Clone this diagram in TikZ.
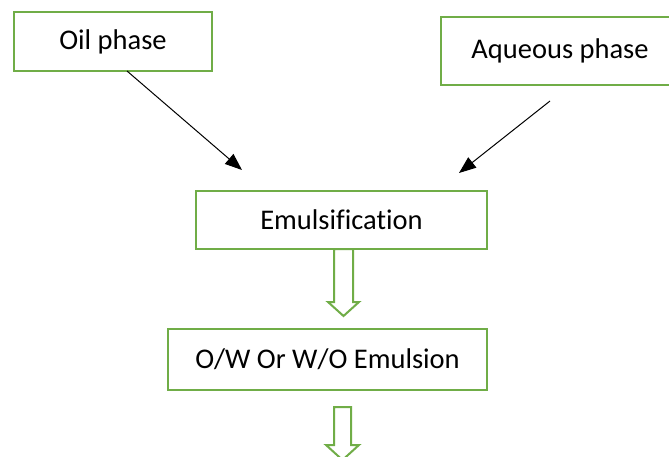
\documentclass[tikz,border=0pt]{standalone}
\usepackage{fontspec}
\setmainfont{Carlito}[Ligatures={NoCommon,NoContextual}]
\usetikzlibrary{arrows.meta,calc}
\definecolor{wgreen}{HTML}{70AD47}
\tikzset{
  gbox/.style={draw=wgreen, line width=2.4pt, fill=white, inner sep=0pt, outer sep=0pt,
    font=\fontsize{28.5}{32}\selectfont},
  thinarrow/.style={draw=black, line width=1pt, -{Triangle[length=17pt,width=13pt]}},
  hollow/.style={draw=wgreen, line width=2pt, fill=white, line join=miter}
}
\begin{document}
\begin{tikzpicture}[x=1pt,y=-1pt]
\clip (0,0) rectangle (669,457);
\fill[white] (0,0) rectangle (669,457);
\node[gbox, minimum width=198pt, minimum height=59pt] (oil) at (113,41.5) {Oil phase};
\node[gbox, minimum width=238pt, minimum height=68pt] (aq) at (560,51) {Aqueous phase};
\node[gbox, minimum width=291pt, minimum height=58pt] (emul) at (341.5,220) {Emulsif{}ication};
\node[gbox, minimum width=319pt, minimum height=61pt] (ow) at (327.5,359.5) {O/W Or W/O Emulsion};
\coordinate (t1) at (242,170);
\coordinate (s2) at (550,101);
\coordinate (t2) at (459,173);
\draw[thinarrow] ([xshift=14pt]oil.south) -- (t1);
\draw[thinarrow] (s2) -- (t2);
% hollow block arrow from Emulsification to O/W
\draw[hollow] ($(emul.south)+(-7.5,0)$) -- ++(0,53) -- ++(-6,0) -- ++(15.5,14) -- ++(15.5,-14) -- ++(-6,0) -- ++(0,-53) -- cycle;
% hollow block arrow below O/W
\draw[hollow] ($(ow.south)+(6.5,17)$) -- ++(0,38) -- ++(-8,0) -- ++(16.5,15) -- ++(16.5,-15) -- ++(-8,0) -- ++(0,-38) -- cycle;
\end{tikzpicture}
\end{document}
